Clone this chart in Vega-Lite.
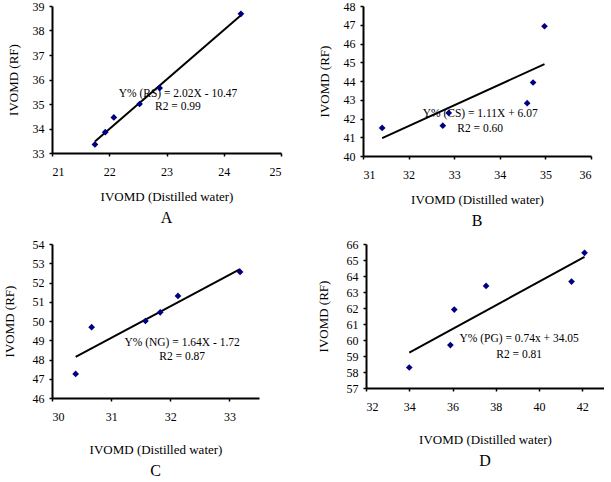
{
  "$schema": "https://vega.github.io/schema/vega-lite/v6.json",
  "background": "white",
  "padding": {"left": 3, "top": 0, "right": 0, "bottom": 0},
  "config": {
    "view": {"stroke": null},
    "font": "Liberation Serif",
    "axis": {
      "grid": false,
      "domainColor": "black",
      "domainWidth": 2,
      "tickColor": "black",
      "tickWidth": 1.5,
      "tickSize": 3,
      "labelFont": "Liberation Serif",
      "labelFontSize": 12,
      "labelColor": "black",
      "titleFont": "Liberation Serif",
      "titleFontSize": 13,
      "titleFontWeight": 300,
      "titleColor": "black"
    },
    "axisX": {"labelPadding": 10, "titlePadding": 13},
    "axisY": {"labelPadding": 5, "titlePadding": 12},
    "title": {"font": "Liberation Serif", "fontSize": 16, "fontWeight": "normal", "color": "black", "orient": "bottom", "offset": 7},
    "text": {"font": "Liberation Serif", "fontSize": 11.5, "color": "black"}
  },
  "datasets": {
    "pointsA": [
      {"x": 21.75, "y": 33.35}, {"x": 21.93, "y": 33.85}, {"x": 22.08, "y": 34.45},
      {"x": 22.53, "y": 35.0}, {"x": 22.88, "y": 35.65}, {"x": 24.3, "y": 38.68}
    ],
    "fitA": [{"x": 21.75, "y": 33.47}, {"x": 24.3, "y": 38.62}],
    "labelA": [
      {"x": 23.2, "y": 35.41, "label": "Y% (RS) = 2.02X - 10.47"},
      {"x": 23.2, "y": 34.88, "label": "R2 = 0.99"}
    ],
    "pointsB": [
      {"x": 31.42, "y": 41.5}, {"x": 32.75, "y": 41.62}, {"x": 32.88, "y": 42.3},
      {"x": 34.6, "y": 42.82}, {"x": 34.73, "y": 43.92}, {"x": 34.98, "y": 46.92}
    ],
    "fitB": [{"x": 31.42, "y": 40.95}, {"x": 34.98, "y": 44.9}],
    "labelB": [
      {"x": 33.57, "y": 42.24, "label": "Y% (CS) = 1.11X + 6.07"},
      {"x": 33.57, "y": 41.44, "label": "R2 = 0.60"}
    ],
    "pointsC": [
      {"x": 30.4, "y": 47.25}, {"x": 30.67, "y": 49.68}, {"x": 31.58, "y": 50.0},
      {"x": 31.83, "y": 50.45}, {"x": 32.13, "y": 51.3}, {"x": 33.18, "y": 52.55}
    ],
    "fitC": [{"x": 30.4, "y": 48.14}, {"x": 33.18, "y": 52.7}],
    "labelC": [
      {"x": 32.2, "y": 48.86, "label": "Y% (NG) = 1.64X - 1.72"},
      {"x": 32.2, "y": 48.13, "label": "R2 = 0.87"}
    ],
    "pointsD": [
      {"x": 34.0, "y": 58.28}, {"x": 35.9, "y": 59.68}, {"x": 36.08, "y": 61.9},
      {"x": 37.55, "y": 63.38}, {"x": 41.5, "y": 63.65}, {"x": 42.1, "y": 65.45}
    ],
    "fitD": [{"x": 34.0, "y": 59.21}, {"x": 42.1, "y": 65.2}],
    "labelD": [
      {"x": 39.08, "y": 60.06, "label": "Y% (PG) = 0.74x + 34.05"},
      {"x": 39.08, "y": 59.06, "label": "R2 = 0.81"}
    ]
  },
  "spacing": 9,
  "vconcat": [
    {
      "spacing": 36,
      "hconcat": [
        {
          "width": 229, "height": 147,
          "title": "A",
          "encoding": {
            "x": {"field": "x", "type": "quantitative", "scale": {"domain": [21, 25], "zero": false, "nice": false}, "axis": {"values": [21, 22, 23, 24, 25], "title": "IVOMD (Distilled water)"}},
            "y": {"field": "y", "type": "quantitative", "scale": {"domain": [33, 39], "zero": false, "nice": false}, "axis": {"values": [33, 34, 35, 36, 37, 38, 39], "title": "IVOMD (RF)"}}
          },
          "layer": [
            {"data": {"name": "labelA"}, "mark": {"type": "text", "align": "center", "baseline": "middle"}, "encoding": {"text": {"field": "label"}}},
            {"data": {"name": "fitA"}, "mark": {"type": "line", "color": "black", "strokeWidth": 2}, "encoding": {}},
            {"data": {"name": "pointsA"}, "mark": {"type": "point", "shape": "diamond", "filled": true, "color": "#000080", "size": 45, "opacity": 1}, "encoding": {}}
          ]
        },
        {
          "width": 228, "height": 150,
          "title": "B",
          "encoding": {
            "x": {"field": "x", "type": "quantitative", "scale": {"domain": [31, 36], "zero": false, "nice": false}, "axis": {"values": [31, 32, 33, 34, 35, 36], "title": "IVOMD (Distilled water)"}},
            "y": {"field": "y", "type": "quantitative", "scale": {"domain": [40, 48], "zero": false, "nice": false}, "axis": {"values": [40, 41, 42, 43, 44, 45, 46, 47, 48], "title": "IVOMD (RF)"}}
          },
          "layer": [
            {"data": {"name": "labelB"}, "mark": {"type": "text", "align": "center", "baseline": "middle"}, "encoding": {"text": {"field": "label"}}},
            {"data": {"name": "fitB"}, "mark": {"type": "line", "color": "black", "strokeWidth": 2}, "encoding": {}},
            {"data": {"name": "pointsB"}, "mark": {"type": "point", "shape": "diamond", "filled": true, "color": "#000080", "size": 45, "opacity": 1}, "encoding": {}}
          ]
        }
      ]
    },
    {
      "spacing": 58,
      "hconcat": [
        {
          "width": 207, "height": 154,
          "title": "C",
          "encoding": {
            "x": {"field": "x", "type": "quantitative", "scale": {"domain": [30, 33.5], "zero": false, "nice": false}, "axis": {"values": [30, 31, 32, 33], "title": "IVOMD (Distilled water)", "titlePadding": 21}},
            "y": {"field": "y", "type": "quantitative", "scale": {"domain": [46, 54], "zero": false, "nice": false}, "axis": {"values": [46, 47, 48, 49, 50, 51, 52, 53, 54], "title": "IVOMD (RF)", "titlePadding": 16}}
          },
          "layer": [
            {"data": {"name": "labelC"}, "mark": {"type": "text", "align": "center", "baseline": "middle"}, "encoding": {"text": {"field": "label"}}},
            {"data": {"name": "fitC"}, "mark": {"type": "line", "color": "black", "strokeWidth": 2}, "encoding": {}},
            {"data": {"name": "pointsC"}, "mark": {"type": "point", "shape": "diamond", "filled": true, "color": "#000080", "size": 45, "opacity": 1}, "encoding": {}}
          ]
        },
        {
          "width": 238, "height": 144,
          "title": "D",
          "encoding": {
            "x": {"field": "x", "type": "quantitative", "scale": {"domain": [32, 43], "zero": false, "nice": false}, "axis": {"values": [32, 34, 36, 38, 40, 42], "title": "IVOMD (Distilled water)", "titlePadding": 21}},
            "y": {"field": "y", "type": "quantitative", "scale": {"domain": [57, 66], "zero": false, "nice": false}, "axis": {"values": [57, 58, 59, 60, 61, 62, 63, 64, 65, 66], "title": "IVOMD (RF)", "titlePadding": 16}}
          },
          "layer": [
            {"data": {"name": "labelD"}, "mark": {"type": "text", "align": "center", "baseline": "middle"}, "encoding": {"text": {"field": "label"}}},
            {"data": {"name": "fitD"}, "mark": {"type": "line", "color": "black", "strokeWidth": 2}, "encoding": {}},
            {"data": {"name": "pointsD"}, "mark": {"type": "point", "shape": "diamond", "filled": true, "color": "#000080", "size": 45, "opacity": 1}, "encoding": {}}
          ]
        }
      ]
    }
  ]
}
